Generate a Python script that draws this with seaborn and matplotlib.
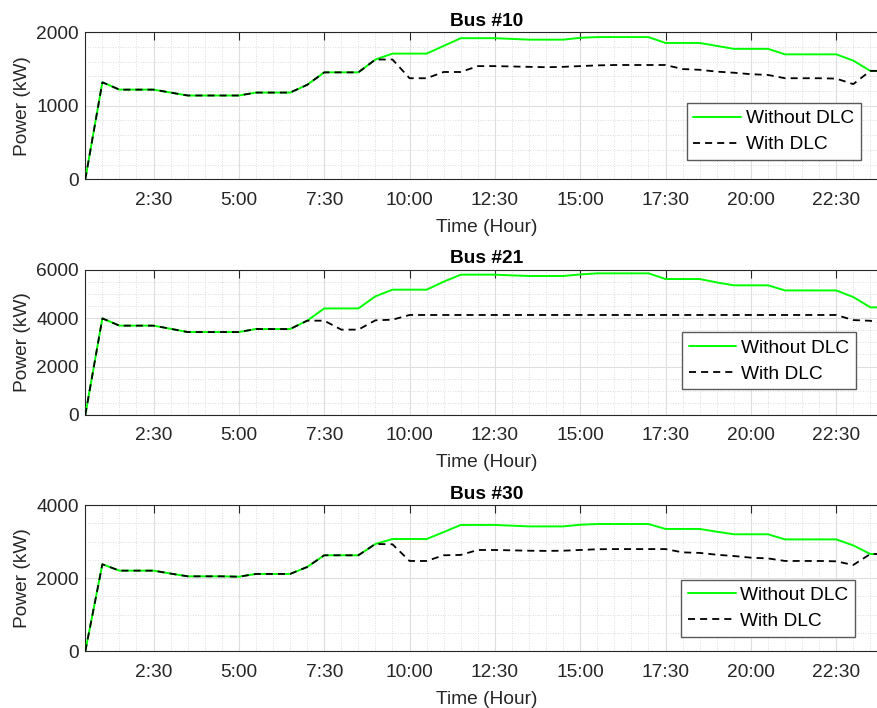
import numpy as np
import pandas as pd
import matplotlib
matplotlib.use("Agg")
import matplotlib.pyplot as plt
from matplotlib.ticker import FixedLocator, MultipleLocator
import seaborn as sns

# Half-hourly samples over one day (hours)
hours = np.arange(0.5, 24.01, 0.5)

bus10_without = [0, 1320, 1220, 1220, 1220, 1180, 1140, 1140, 1140, 1140, 1180, 1180,
                 1180, 1285, 1455, 1455, 1455, 1630, 1710, 1710, 1710, 1815, 1920, 1920,
                 1920, 1910, 1900, 1900, 1900, 1925, 1935, 1935, 1935, 1935, 1855, 1855,
                 1855, 1815, 1775, 1775, 1775, 1700, 1700, 1700, 1700, 1615, 1475, 1475]
bus10_with = [0, 1320, 1220, 1220, 1220, 1180, 1140, 1140, 1140, 1140, 1180, 1180,
              1180, 1285, 1455, 1455, 1455, 1630, 1630, 1375, 1375, 1460, 1460, 1540,
              1540, 1535, 1530, 1525, 1530, 1540, 1550, 1555, 1555, 1555, 1555, 1500,
              1490, 1465, 1450, 1430, 1420, 1375, 1375, 1375, 1370, 1295, 1475, 1475]

bus21_without = [0, 3990, 3690, 3690, 3690, 3560, 3425, 3425, 3425, 3425, 3550, 3550,
                 3550, 3895, 4400, 4400, 4400, 4900, 5175, 5175, 5175, 5505, 5795, 5795,
                 5795, 5765, 5740, 5740, 5740, 5805, 5850, 5850, 5850, 5850, 5615, 5615,
                 5615, 5475, 5355, 5355, 5355, 5145, 5145, 5145, 5145, 4870, 4445, 4445]
bus21_with = [0, 3990, 3690, 3690, 3690, 3560, 3425, 3425, 3425, 3425, 3550, 3550,
              3550, 3895, 3895, 3525, 3525, 3910, 3935, 4130, 4130, 4130, 4130, 4130,
              4130, 4130, 4130, 4130, 4130, 4130, 4130, 4130, 4130, 4130, 4130, 4130,
              4130, 4130, 4130, 4130, 4130, 4130, 4130, 4130, 4130, 3920, 3890, 3760]

bus30_without = [0, 2380, 2205, 2205, 2205, 2125, 2050, 2050, 2050, 2040, 2115, 2115,
                 2115, 2305, 2625, 2625, 2625, 2935, 3070, 3070, 3070, 3260, 3455, 3455,
                 3455, 3435, 3415, 3415, 3415, 3460, 3480, 3480, 3480, 3480, 3345, 3345,
                 3345, 3270, 3200, 3200, 3200, 3060, 3060, 3060, 3060, 2895, 2660, 2660]
bus30_with = [0, 2380, 2205, 2205, 2205, 2125, 2050, 2050, 2050, 2040, 2115, 2115,
              2115, 2305, 2625, 2625, 2625, 2935, 2925, 2470, 2470, 2625, 2635, 2770,
              2770, 2760, 2750, 2745, 2750, 2770, 2790, 2795, 2795, 2795, 2795, 2705,
              2690, 2640, 2605, 2560, 2540, 2470, 2470, 2470, 2460, 2360, 2660, 2660]

titles = ["Bus #10", "Bus #21", "Bus #30"]
xtick_values = [2.5, 5, 7.5, 10, 12.5, 15, 17.5, 20, 22.5]
xtick_labels = ["2:30", "5:00", "7:30", "10:00", "12:30", "15:00", "17:30", "20:00", "22:30"]
series_labels = ["Without DLC", "With DLC"]

panels = [
    dict(without=bus10_without, with_=bus10_with, ylim=(0, 2000),
         yticks=[0, 1000, 2000], yminor=200),
    dict(without=bus21_without, with_=bus21_with, ylim=(0, 6000),
         yticks=[0, 2000, 4000, 6000], yminor=500),
    dict(without=bus30_without, with_=bus30_with, ylim=(0, 4000),
         yticks=[0, 2000, 4000], yminor=500),
]

FS = 13.8
sns.set_style("white")
plt.rcParams["font.family"] = ["Liberation Sans", "DejaVu Sans"]
plt.rcParams["font.size"] = FS

W, H = 878, 708
fig = plt.figure(figsize=(W / 100, H / 100), dpi=100)

# axes placement in pixels: (top, bottom); plot area runs past the right edge
ax_left_px, ax_right_px = 85.3, 887.4
ax_rows_px = [(32.3, 179.3), (269.7, 415.0), (505.0, 651.3)]
legend_anchor = [(0.967, 0.131), (0.961, 0.177), (0.960, 0.100)]

ink = "#262626"

for k, (p, (top, bot)) in enumerate(zip(panels, ax_rows_px)):
    ax = fig.add_axes([ax_left_px / W, 1 - bot / H,
                       (ax_right_px - ax_left_px) / W, (bot - top) / H])
    df = pd.DataFrame({"hour": hours,
                       series_labels[0]: p["without"],
                       series_labels[1]: p["with_"]})
    sns.lineplot(data=df, x="hour", y=series_labels[0], ax=ax, color="#00ff00",
                 linewidth=1.4, label=series_labels[0], zorder=3)
    sns.lineplot(data=df, x="hour", y=series_labels[1], ax=ax, color="black",
                 linewidth=1.3, linestyle="--", label=series_labels[1], zorder=4)
    ax.lines[1].set_dashes((3.9, 2.8))

    ax.set_xlim(0.5, 24)
    ax.set_ylim(*p["ylim"])
    ax.xaxis.set_major_locator(FixedLocator(xtick_values))
    ax.set_xticklabels(xtick_labels)
    ax.xaxis.set_minor_locator(MultipleLocator(0.5))
    ax.set_yticks(p["yticks"])
    ax.yaxis.set_minor_locator(MultipleLocator(p["yminor"]))

    ax.grid(which="major", color="#dedede", linewidth=0.8, linestyle="-")
    ax.grid(which="minor", color="#d2d2d2", linewidth=0.6, linestyle=(0, (1, 2)))
    ax.set_axisbelow(True)

    ax.tick_params(which="major", direction="in", length=5.8, width=0.8,
                   top=True, right=True, colors=ink, labelsize=FS)
    ax.tick_params(axis="x", which="major", pad=9)
    ax.tick_params(axis="y", which="major", pad=4.5)
    ax.tick_params(which="minor", length=0)
    for s in ax.spines.values():
        s.set_color(ink)
        s.set_linewidth(0.8)

    ax.set_title(titles[k], fontweight="bold", fontsize=FS, pad=4.6, color="black")
    ax.set_xlabel("Time (Hour)", color=ink, fontsize=FS)
    ax.set_ylabel("Power (kW)", color=ink, fontsize=FS)
    h_px = bot - top
    ax.xaxis.set_label_coords(0.5, -39.5 / h_px)
    ax.yaxis.set_label_coords(-54.5 / (ax_right_px - ax_left_px), 0.5)

    leg = ax.legend(loc="lower right", bbox_to_anchor=legend_anchor[k],
                    frameon=True, fancybox=False, framealpha=1, edgecolor="#5a5a5a",
                    borderaxespad=0, handlelength=2.5, handletextpad=0.25,
                    labelspacing=0.45, borderpad=0.35, fontsize=FS)
    leg.get_frame().set_linewidth(1.0)
    for t in leg.get_texts():
        t.set_color("black")

fig.savefig("out.png", dpi=100, facecolor="white")
